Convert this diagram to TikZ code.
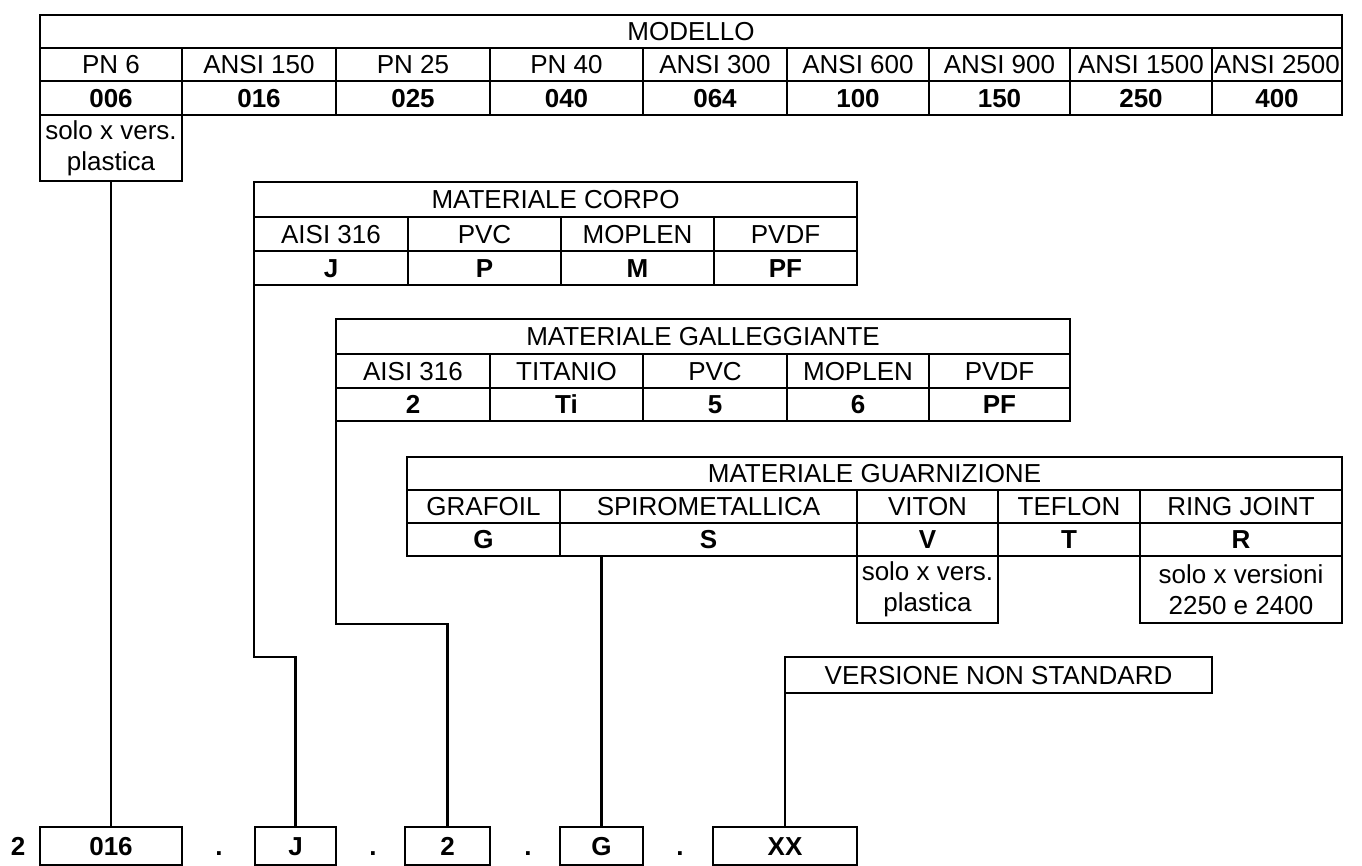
\documentclass[tikz,border=0pt]{standalone}
\usepackage{fontspec}
\setmainfont{Liberation Sans}
\usetikzlibrary{calc}

\begin{document}
\begin{tikzpicture}[x=0.5pt, y=-0.5pt, line width=1.4pt,
  cell/.style={draw, inner sep=0pt, outer sep=0pt, text height=9.3pt, text depth=0pt,
    font=\fontsize{13}{15}\selectfont},
  codecell/.style={cell, font=\fontsize{13}{15}\selectfont\bfseries},
  codetext/.style={inner sep=0pt, outer sep=0pt, text height=9.3pt, text depth=0pt,
    font=\fontsize{13}{15}\selectfont\bfseries},
  notecell/.style={draw, inner sep=0pt, outer sep=0pt, align=center,
    font=\fontsize{13}{15.5}\selectfont}]
  \useasboundingbox (0,0) rectangle (1362,866);

  % Modello
  \node[cell, minimum width=651pt, minimum height=16.5pt] (modello) at (691,31.5) {MODELLO};
  \foreach \l/\r/\t [count=\i] in {40/182/PN 6, 182/336/ANSI 150, 336/490/PN 25, 490/643/PN 40,
      643/787/ANSI 300, 787/929/ANSI 600, 929/1070/ANSI 900, 1070/1212/ANSI 1500, 1212/1342/ANSI 2500}
    \node[cell, minimum width={(\r-\l)*0.5pt}, minimum height=16.5pt] (p\i) at ({(\l+\r)/2},64.5) {\t};
  \foreach \l/\r/\t [count=\i] in {40/182/006, 182/336/016, 336/490/025, 490/643/040,
      643/787/064, 787/929/100, 929/1070/150, 1070/1212/250, 1212/1342/400}
    \node[codecell, minimum width={(\r-\l)*0.5pt}, minimum height=17pt] (c\i) at ({(\l+\r)/2},98) {\t};
  \node[notecell, minimum width=71pt, minimum height=33pt] (solo) at (111,148) {solo x vers.\\plastica};

  % Materiale corpo
  \node[cell, minimum width=301.5pt, minimum height=17.5pt] (corpo) at (555.5,199.5) {MATERIALE CORPO};
  \foreach \l/\r/\t [count=\i] in {254/408/AISI 316, 408/561/PVC, 561/714/MOPLEN, 714/857/PVDF}
    \node[cell, minimum width={(\r-\l)*0.5pt}, minimum height=17pt] (cm\i) at ({(\l+\r)/2},234) {\t};
  \foreach \l/\r/\t [count=\i] in {254/408/J, 408/561/P, 561/714/M, 714/857/PF}
    \node[codecell, minimum width={(\r-\l)*0.5pt}, minimum height=17pt] (cc\i) at ({(\l+\r)/2},268) {\t};

  % Materiale galleggiante
  \node[cell, minimum width=367pt, minimum height=17.5pt] (gall) at (703,336.5) {MATERIALE GALLEGGIANTE};
  \foreach \l/\r/\t [count=\i] in {336/490/AISI 316, 490/643/TITANIO, 643/787/PVC, 787/929/MOPLEN, 929/1070/PVDF}
    \node[cell, minimum width={(\r-\l)*0.5pt}, minimum height=17pt] (gm\i) at ({(\l+\r)/2},371) {\t};
  \foreach \l/\r/\t [count=\i] in {336/490/2, 490/643/Ti, 643/787/5, 787/929/6, 929/1070/PF}
    \node[codecell, minimum width={(\r-\l)*0.5pt}, minimum height=16.5pt] (gc\i) at ({(\l+\r)/2},404.5) {\t};

  % Materiale guarnizione
  \node[cell, minimum width=467.5pt, minimum height=16.5pt] (guarn) at (874.5,473.5) {MATERIALE GUARNIZIONE};
  \foreach \l/\r/\t [count=\i] in {407/560/GRAFOIL, 560/857/SPIROMETALLICA, 857/998/VITON, 998/1140/TEFLON, 1140/1342/RING JOINT}
    \node[cell, minimum width={(\r-\l)*0.5pt}, minimum height=16.5pt] (rm\i) at ({(\l+\r)/2},506.5) {\t};
  \foreach \l/\r/\t [count=\i] in {407/560/G, 560/857/S, 857/998/V, 998/1140/T, 1140/1342/R}
    \node[codecell, minimum width={(\r-\l)*0.5pt}, minimum height=16.5pt] (rc\i) at ({(\l+\r)/2},539.5) {\t};
  \node[notecell, minimum width=70.5pt, minimum height=33.5pt] (noteV) at (927.5,589.5) {solo x vers.\\plastica};
  \node[notecell, minimum width=101pt, minimum height=33.5pt] (noteR) at (1241,589.5) {solo x versioni\\2250 e 2400};

  % Versione non standard
  \node[cell, minimum width=213.5pt, minimum height=18pt] (vns) at (998.5,675) {VERSIONE NON STANDARD};

  % Codice
  \node[codetext] (lead) at (18,846) {2};
  \foreach \l/\r/\t/\n in {40/182/016/b016, 255/336/J/bJ, 405/490/2/b2, 560/643/G/bG, 713/857/XX/bXX}
    \node[codecell, minimum width={(\r-\l)*0.5pt}, minimum height=19pt] (\n) at ({(\l+\r)/2},846) {\t};
  \foreach \x [count=\i] in {219,373,528,680}
    \node[codetext] (dot\i) at (\x,846) {.};

  % Collegamenti
  \coordinate (kJ) at (254,657);
  \coordinate (k2) at (336,624);
  \draw (solo.south) -- (b016.north);
  \draw (cc1.south west) -- (kJ) -| (bJ.north);
  \draw (gc1.south west) -- (k2) -| (b2.north);
  \draw (rc2.south -| bG.north) -- (bG.north);
  \draw (vns.south west) -- (bXX.north);
\end{tikzpicture}
\end{document}
